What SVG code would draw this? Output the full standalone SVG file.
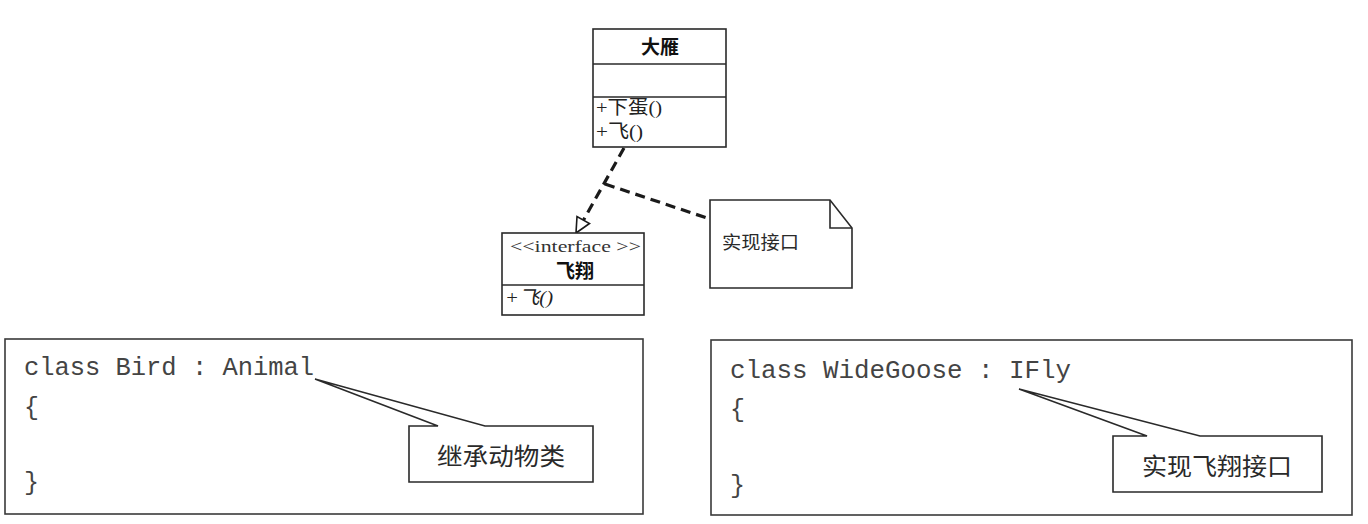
<svg xmlns="http://www.w3.org/2000/svg" width="1368" height="524" viewBox="0 0 1368 524">
<defs>
<style>
.box{fill:#fff;stroke:#2a2a2a;stroke-width:1.6}
.sep{stroke:#2a2a2a;stroke-width:1.6;fill:none}
.dash{stroke:#1a1a1a;stroke-width:3.2;stroke-dasharray:10 6;fill:none}
.frame{fill:#fff;stroke:#3a3a3a;stroke-width:1.6}
.code{font-family:"Liberation Mono","Courier New",monospace;font-size:25px;fill:#444}
.cjk{font-family:"Noto Sans CJK SC","Noto Sans",sans-serif;fill:#2a2a2a}
.title{font-family:"Noto Sans CJK SC",sans-serif;font-weight:bold;font-size:19px;fill:#111}
.meth{font-family:"Liberation Serif","Noto Sans CJK SC",serif;font-size:19px;fill:#222}
.ster{font-family:"Liberation Serif",serif;font-size:17px;fill:#333}
</style>
</defs>
<rect width="1368" height="524" fill="#fff"/>

<g id="connectors">
<path class="dash" d="M624,148 L583,221"/>
<path class="dash" d="M605,184 L710,219"/>
<polygon points="576,233 589.5,223.5 577,216.5" fill="#fff" stroke="#1a1a1a" stroke-width="1.6"/>
</g>

<g id="dayan">
<rect class="box" x="593" y="29" width="133" height="118"/>
<line class="sep" x1="593" y1="64" x2="726" y2="64"/>
<line class="sep" x1="593" y1="97" x2="726" y2="97"/>
<text class="title" x="660" y="54" text-anchor="middle">大雁</text>
<text class="meth" x="596" y="114" textLength="66" lengthAdjust="spacingAndGlyphs">+下蛋()</text>
<text class="meth" x="596" y="138" textLength="47" lengthAdjust="spacingAndGlyphs">+飞()</text>
</g>

<g id="feixiang">
<rect class="box" x="502" y="233" width="142" height="82"/>
<line class="sep" x1="502" y1="285" x2="644" y2="285"/>
<text class="ster" x="510" y="252" textLength="131" lengthAdjust="spacingAndGlyphs">&lt;&lt;interface &gt;&gt;</text>
<text class="title" x="575" y="278" text-anchor="middle">飞翔</text>
<text class="meth" x="505" y="304" font-style="italic" textLength="48" lengthAdjust="spacingAndGlyphs">+飞()</text>
</g>

<g id="note">
<path class="box" d="M710,200 L830,200 L852,228 L852,288 L710,288 Z"/>
<path class="sep" d="M830,200 L830,228 L852,228" stroke-width="1.2"/>
<text class="cjk" x="722" y="249" font-size="18" textLength="77" lengthAdjust="spacingAndGlyphs">实现接口</text>
</g>

<g id="bird-code">
<rect class="frame" x="5" y="339" width="638" height="175"/>
<text class="code" x="24" y="375" textLength="290" lengthAdjust="spacingAndGlyphs">class Bird : Animal</text>
<text class="code" x="24" y="415">{</text>
<text class="code" x="24" y="490">}</text>
</g>

<g id="bird-callout">
<path class="box" d="M409,426 L438,426 L315,379 L485,426 L593,426 L593,482 L409,482 Z"/>
<text class="cjk" x="501" y="465" font-size="24" text-anchor="middle" textLength="128" lengthAdjust="spacingAndGlyphs">继承动物类</text>
</g>

<g id="widegoose-code">
<rect class="frame" x="711" y="340" width="641" height="175"/>
<text class="code" x="730" y="378" textLength="341" lengthAdjust="spacingAndGlyphs">class WideGoose : IFly</text>
<text class="code" x="730" y="417">{</text>
<text class="code" x="730" y="493">}</text>
</g>

<g id="widegoose-callout">
<path class="box" d="M1113,436 L1147,436 L1019,389 L1200,436 L1322,436 L1322,492 L1113,492 Z"/>
<text class="cjk" x="1217" y="475" font-size="24" text-anchor="middle" textLength="150" lengthAdjust="spacingAndGlyphs">实现飞翔接口</text>
</g>
</svg>
